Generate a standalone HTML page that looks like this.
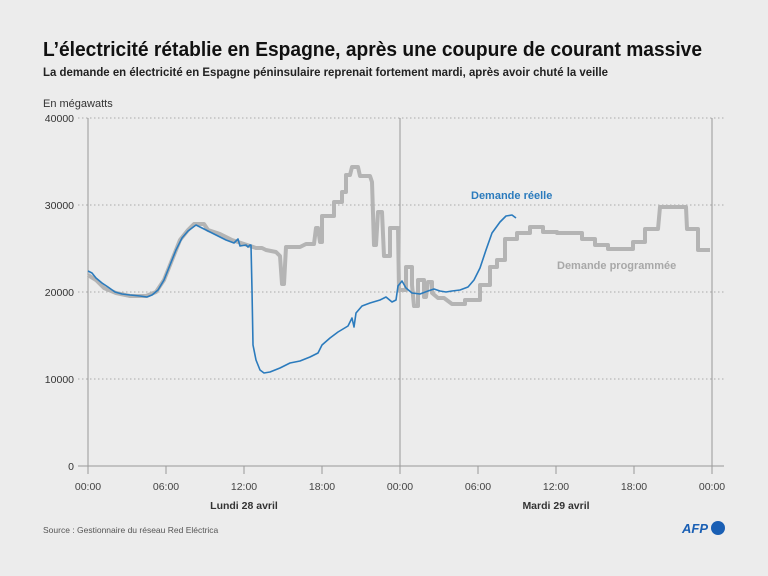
<!DOCTYPE html>
<html><head><meta charset="utf-8"><style>
html,body{margin:0;padding:0;background:#ececec;}
svg{display:block;font-family:"Liberation Sans",sans-serif;}
</style></head><body>
<svg width="768" height="576" viewBox="0 0 768 576" xmlns="http://www.w3.org/2000/svg">
<rect width="768" height="576" fill="#ececec"/>
<text x="43" y="56" font-size="20" font-weight="bold" fill="#111" textLength="659" lengthAdjust="spacingAndGlyphs">L’électricité rétablie en Espagne, après une coupure de courant massive</text>
<text x="43" y="76" font-size="11.5" font-weight="bold" fill="#222" textLength="565" lengthAdjust="spacingAndGlyphs">La demande en électricité en Espagne péninsulaire reprenait fortement mardi, après avoir chuté la veille</text>
<text x="43" y="107" font-size="11" fill="#333">En mégawatts</text>
<g stroke="#aaa" stroke-width="1" stroke-dasharray="1.5,2.5">
<line x1="78" y1="118" x2="724" y2="118"/>
<line x1="78" y1="205" x2="724" y2="205"/>
<line x1="78" y1="292" x2="724" y2="292"/>
<line x1="78" y1="379" x2="724" y2="379"/>
</g>
<line x1="78" y1="466" x2="724" y2="466" stroke="#999" stroke-width="1"/>
<g stroke="#999" stroke-width="1">
<line x1="88" y1="118" x2="88" y2="474"/>
<line x1="400" y1="118" x2="400" y2="474"/>
<line x1="712" y1="118" x2="712" y2="474"/>
<line x1="166" y1="466" x2="166" y2="474"/><line x1="244" y1="466" x2="244" y2="474"/><line x1="322" y1="466" x2="322" y2="474"/>
<line x1="478" y1="466" x2="478" y2="474"/><line x1="556" y1="466" x2="556" y2="474"/><line x1="634" y1="466" x2="634" y2="474"/>
</g>
<g font-size="10.5" fill="#333" text-anchor="end">
<text x="74" y="122">40000</text><text x="74" y="209">30000</text><text x="74" y="296">20000</text><text x="74" y="383">10000</text><text x="74" y="470">0</text>
</g>
<g font-size="10.5" fill="#444" text-anchor="middle">
<text x="88" y="490">00:00</text><text x="166" y="490">06:00</text><text x="244" y="490">12:00</text><text x="322" y="490">18:00</text><text x="400" y="490">00:00</text><text x="478" y="490">06:00</text><text x="556" y="490">12:00</text><text x="634" y="490">18:00</text><text x="712" y="490">00:00</text>
<text x="244" y="509" font-weight="bold" fill="#333">Lundi 28 avril</text>
<text x="556" y="509" font-weight="bold" fill="#333">Mardi 29 avril</text>
</g>
<polyline fill="none" stroke="#b4b4b4" stroke-width="4" stroke-linejoin="round" points="88,275 96,280 104,288 116,293 130,296 146,296 156,292 164,280 172,260 180,240 188,230 194,224 204,224 208,230 220,234 232,240 244,244 256,248 262,248 266,250 276,252 280,256 282,284 284,284 286,247 300,247 306,244 314,244 316,228 318,228 320,242 322,242 322,216 334,216 334,202 342,202 342,192 346,192 346,175 350,175 352,167 358,167 360,176 370,176 372,182 374,245 376,245 378,212 382,212 384,256 390,256 390,228 398,228 399,290 406,290 406,267 412,267 412,285 414,306 418,306 418,280 424,280 424,297 426,297 428,282 432,282 432,293 438,298 444,298 452,304 465,304 465,300 480,300 480,285 490,285 490,267 497,267 497,260 505,260 505,239 517,239 517,233 530,233 530,227 543,227 543,232 557,232 557,233 582,233 582,239 595,239 595,245 608,245 608,249 633,249 633,242 645,242 645,229 658,229 660,207 686,207 687,229 698,229 698,250 710,250"/>
<polyline fill="none" stroke="#2b7bbd" stroke-width="1.6" stroke-linejoin="round" points="88,271 92,273 96,278 102,283 108,287 115,292 122,294 130,295 140,296 147,297 152,295 158,290 164,280 170,265 176,250 182,238 188,231 196,225 202,228 210,232 218,236 226,240 234,243 238,239 240,246 246,245 248,247 250,245 251,245 252,290 253,345 256,360 260,370 264,373 270,372 280,368 290,363 300,361 310,357 318,353 322,345 330,338 338,332 348,326 352,318 354,327 356,313 362,306 370,303 380,300 386,297 392,302 396,300 398,286 402,281 406,288 412,293 420,294 428,291 434,289 440,291 446,292 452,291 460,290 468,287 474,280 480,268 486,250 492,233 500,222 506,216 512,215 516,218"/>
<text x="471" y="199" font-size="11" font-weight="bold" fill="#2b7bbd">Demande réelle</text>
<text x="557" y="269" font-size="11" font-weight="bold" fill="#a8a8a8">Demande programmée</text>
<text x="43" y="533" font-size="8.5" fill="#555">Source : Gestionnaire du réseau Red Eléctrica</text>
<text x="682" y="533" font-size="13" font-weight="bold" font-style="italic" fill="#1a5fb4">AFP</text>
<circle cx="718" cy="528" r="7" fill="#1a5fb4"/>
</svg>
</body></html>
